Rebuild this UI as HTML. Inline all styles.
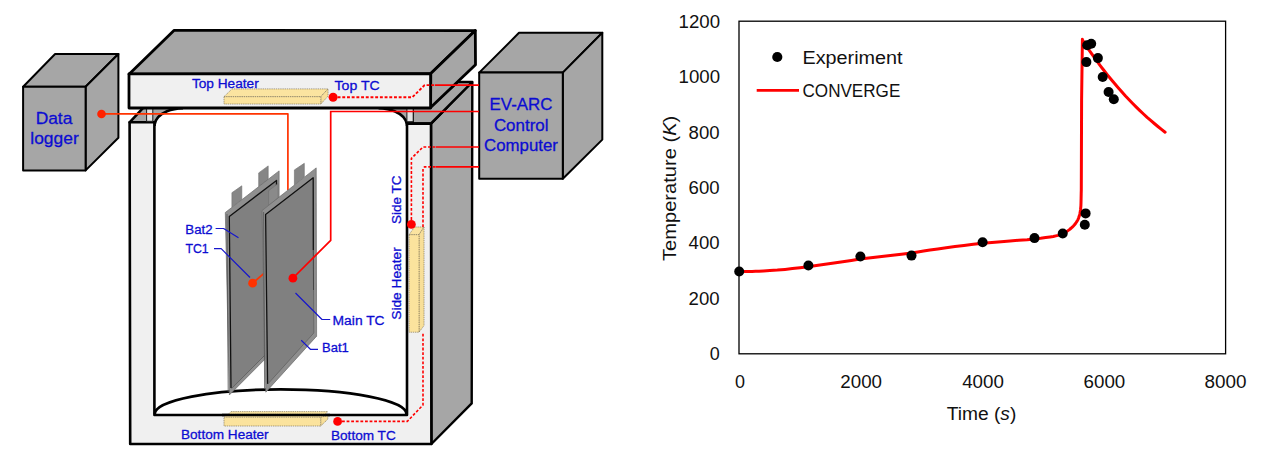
<!DOCTYPE html>
<html lang="en">
<head>
<meta charset="utf-8">
<title>EV-ARC setup and temperature comparison</title>
<style>
  html, body { margin: 0; padding: 0; background: #ffffff; }
  body { width: 1265px; height: 454px; overflow: hidden; }
  svg { display: block; }
  .lbl { font-family: "Liberation Sans", Arial, sans-serif; fill: #0c0cd2; stroke: #0c0cd2; stroke-width: 0.3px; }
  .ax  { font-family: "Liberation Sans", Arial, sans-serif; fill: #111111; }
</style>
</head>
<body>
<svg width="1265" height="454" viewBox="0 0 1265 454">
  <rect x="0" y="0" width="1265" height="454" fill="#ffffff"/>

  <!-- ================= LEFT: EXPERIMENT SCHEMATIC ================= -->
  <g id="schematic" stroke-linejoin="round">

    <!-- data logger cube -->
    <g stroke="#000" stroke-width="2" fill="#a6a6a6">
      <polygon points="23.1,86.8 55.1,54 118.4,54 85.6,86.8"/>
      <polygon points="85.6,86.8 118.4,54 118.4,137.8 85.6,170.4"/>
      <rect x="23.1" y="86.8" width="62.5" height="83.6"/>
    </g>

    <!-- control computer cube -->
    <g stroke="#000" stroke-width="2" fill="#a6a6a6">
      <polygon points="479.2,72.6 519,32.8 602.3,32.8 562.8,72.6"/>
      <polygon points="562.8,72.6 602.3,32.8 602.3,139.6 562.8,178.8"/>
      <rect x="479.2" y="72.6" width="83.6" height="106.2"/>
    </g>

    <!-- chamber: right side face -->
    <polygon points="431,123.6 472.3,82 471.7,403.4 431.4,444" fill="#a6a6a6" stroke="#000" stroke-width="2.4"/>
    <!-- chamber: top rim seen through the gap -->
    <polygon points="129.6,122.3 143.6,107.4 447,107.4 431,123.6" fill="#a6a6a6" stroke="#000" stroke-width="2.6"/>
    <polygon points="412.8,107.4 412.8,123.4 431,123.4 472.2,82 457.5,82 430.6,106.6" fill="#a6a6a6" stroke="#000" stroke-width="2.4"/>
    <!-- chamber: inner opening -->
    <path d="M154.6,415 L154.6,124.5 C155.4,118.6 160.5,114 167,111.2 C172,109.2 177,108.4 183,108.1 L378.6,108.1 C384.6,108.4 389.6,109.2 394.6,111.2 C401.1,114 406.2,118.6 407,124.5 L407,415 Z" fill="#ffffff"/>
    <path d="M154.6,126 L154.6,124.5 C155.4,118.6 160.5,114 167,111.2 C172,109.2 177,108.4 183,108.1" fill="none" stroke="#000" stroke-width="2.6"/>
    <path d="M407,126 L407,124.5 C406.2,118.6 401.1,114 394.6,111.2 C389.6,109.2 384.6,108.4 378.6,108.1" fill="none" stroke="#000" stroke-width="2.6"/>
    <!-- chamber: front face -->
    <path d="M129.6,122.3 L154.4,122.3 L154.4,415 L407,415 L407,123.6 L431,123.6 L431.4,444 L130.2,444 Z" fill="#f0f0f0" stroke="#000" stroke-width="2.6"/>
    <!-- pillars -->
    <rect x="146.6" y="107.4" width="6.2" height="13.9" fill="#e4e4e4" stroke="#1a1a1a" stroke-width="1"/>
    <rect x="406.9" y="107.4" width="6.3" height="14.3" fill="#e4e4e4" stroke="#1a1a1a" stroke-width="1"/>
    <!-- bottom arc -->
    <path d="M154.8,414 A125.8,24.6 0 0 1 406.4,414" fill="none" stroke="#000" stroke-width="2.6"/>

    <!-- top plate -->
    <g stroke="#000" stroke-width="2.8">
      <polygon points="129,74.2 174.2,30.3 475.3,30.6 430.8,73.5" fill="#a6a6a6"/>
      <polygon points="430.8,73.5 475.3,30.6 475.5,64.8 430.6,107.6" fill="#a6a6a6"/>
      <rect x="129" y="73.8" width="301.6" height="34.2" fill="#f0f0f0"/>
    </g>

    <!-- top heater -->
    <g stroke="#857a5c" stroke-width="0.7" stroke-dasharray="1.4 0.8">
      <polygon points="224,96.7 232,88.9 328,88.9 320.8,96.7" fill="#fbe4a0"/>
      <polygon points="320.8,96.7 328,88.9 328,96.2 320.8,104" fill="#f8df98"/>
      <rect x="224" y="96.7" width="96.8" height="7.3" fill="#fbe39d"/>
    </g>
    <!-- bottom heater -->
    <g stroke="#857a5c" stroke-width="0.7" stroke-dasharray="1.4 0.8">
      <polygon points="231,411.6 327.8,411.6 325,414.2 228.5,414.2" fill="#fbe4a0"/>
      <polygon points="224,417.2 225.5,416 326,416 320.7,417.2" fill="#fbe4a0" stroke="none"/>
      <polygon points="320.7,417.2 327.8,415.8 327.8,419.2 320.7,426" fill="#f8df98"/>
      <rect x="224" y="417.2" width="96.7" height="8.8" fill="#fbe39d"/>
    </g>
    <line x1="222" y1="415" x2="330" y2="415" stroke="#000" stroke-width="2.6"/>
    <!-- side heater -->
    <g stroke="#857a5c" stroke-width="0.7" stroke-dasharray="1.4 0.8">
      <polygon points="409.1,234.7 419,234.7 424,227 414.5,227" fill="#fbe4a0"/>
      <polygon points="419,234.7 424,227 424,325.6 419,332.2" fill="#f8df98"/>
      <rect x="409.1" y="234.7" width="9.9" height="97.5" fill="#fbe39d"/>
    </g>

    <!-- thermocouple wires to control computer -->
    <g fill="none" stroke="#ff0000" stroke-width="1.9">
      <path d="M337.6,97.3 L412.3,97.3 L424.6,85.1 L435,85.1" stroke-dasharray="2.9 1.8"/>
      <path d="M435,85.1 L479,85.1" stroke-width="1.7"/>
    </g>
    <g fill="none" stroke="#ff0000" stroke-width="1.6">
      <path d="M411.4,224.5 L411.4,158.4 L423,147 L436,147" stroke-dasharray="2.8 1.8"/>
      <path d="M436,147 L479,147"/>
      <path d="M342,421.4 L407.3,421.4 L423,405 L423,332 M423,227 L423,168.8 L424.4,166.9 L436,166.9" stroke-dasharray="2.8 1.8"/>
      <path d="M436,166.9 L479,166.9"/>
    </g>
    <!-- data logger wire -->
    <path d="M101.5,113.8 L287.9,113.8 L287.9,190" fill="none" stroke="#ff3300" stroke-width="1.7"/>
    <circle cx="101.5" cy="114" r="4.3" fill="#ff2200"/>
    <circle cx="333.1" cy="97.3" r="4.5" fill="#ff0000"/>
    <circle cx="411.4" cy="224.4" r="4.4" fill="#ff0000"/>
    <circle cx="337.6" cy="421.4" r="4.4" fill="#ff0000"/>

    <!-- battery 2 (back) -->
    <g>
      <polygon points="231.9,207 231.9,192.7 241.8,185.8 241.8,199.5" fill="#868686" stroke="#6e6e6e" stroke-width="0.6"/>
      <polygon points="258.7,186.5 258.7,172.9 268.2,165.9 268.2,179.5" fill="#868686" stroke="#6e6e6e" stroke-width="0.6"/>
      <polygon points="225.3,212.5 279.1,170.9 279.1,345 229.4,394.9" fill="#8f8f8f" stroke="#6a6a6a" stroke-width="0.7"/>
      <polygon points="229.3,216.5 276.5,180.4 276.5,343 231.6,388.5" fill="#808080"/>
      <path d="M231,388 L229.3,216.5 L276.5,180.4 L276.5,200" fill="none" stroke="#111" stroke-width="1.3"/>
      <path d="M231.6,388.5 L265,355" fill="none" stroke="#5c5c5c" stroke-width="0.8"/>
      <path d="M228.2,392 L227,214" fill="none" stroke="#555" stroke-width="0.8"/>
    </g>
    <!-- TC1 on battery 2 -->
    <path d="M252.6,283.2 L264,273.4" stroke="#ff3300" stroke-width="1.8" fill="none"/>
    <circle cx="252.6" cy="283.2" r="4.4" fill="#ff3300"/>

    <!-- battery 1 (front) -->
    <g>
      <polygon points="268.6,205.5 268.6,190.7 278.1,183.6 278.1,198" fill="#8a8a8a" stroke="#6e6e6e" stroke-width="0.6"/>
      <polygon points="294.4,184.8 294.4,169.9 304.3,163.3 304.3,176.8" fill="#868686" stroke="#6e6e6e" stroke-width="0.6"/>
      <polygon points="262,210.6 316.2,167.9 316.6,336.2 265.8,392.2" fill="#8f8f8f" stroke="#6a6a6a" stroke-width="0.7"/>
      <polygon points="265.6,214.5 313.2,177.8 313.8,333 267.8,384" fill="#808080"/>
      <path d="M267.6,384 L265.6,214.5 L313.2,177.8 L313.3,250" fill="none" stroke="#111" stroke-width="1.3"/>
      <path d="M313.3,250 L313.5,290" fill="none" stroke="#444" stroke-width="1"/>
      <path d="M313.5,290 L313.8,333 L267.8,384" fill="none" stroke="#666" stroke-width="0.9"/>
      <path d="M264.6,389 L263.6,212" fill="none" stroke="#555" stroke-width="0.8"/>
    </g>
    <path d="M479,111.5 L330.7,111.5 L330.7,240.3 L293,278" fill="none" stroke="#ff0000" stroke-width="1.7" stroke-linejoin="miter"/>
    <circle cx="292.9" cy="278.2" r="4.4" fill="#ff0000"/>

    <!-- leader lines -->
    <g fill="none" stroke="#1616cc" stroke-width="1.2">
      <path d="M215.6,228.5 L223.6,228.5 L238.5,237.8"/>
      <path d="M214,248.7 L221.2,248.7 L250,277.5"/>
      <path d="M295.5,293 L322,319.5 L330.2,319.5"/>
      <path d="M301.2,340.3 L310.4,349.3 L318,349.3"/>
    </g>

    <!-- labels -->
    <g class="lbl" font-size="13.7">
      <text x="191.9" y="87.6" textLength="66.8" lengthAdjust="spacingAndGlyphs">Top Heater</text>
      <text x="334.5" y="90" textLength="45.2" lengthAdjust="spacingAndGlyphs">Top TC</text>
      <text x="181" y="439.2" textLength="87.6" lengthAdjust="spacingAndGlyphs">Bottom Heater</text>
      <text x="331" y="440" textLength="64.7" lengthAdjust="spacingAndGlyphs">Bottom TC</text>
      <text x="185.3" y="234.2" textLength="27.3" lengthAdjust="spacingAndGlyphs">Bat2</text>
      <text x="185.4" y="253" textLength="23.2" lengthAdjust="spacingAndGlyphs">TC1</text>
      <text x="332.6" y="324.5" textLength="52" lengthAdjust="spacingAndGlyphs">Main TC</text>
      <text x="322" y="352" textLength="26.8" lengthAdjust="spacingAndGlyphs">Bat1</text>
      <text transform="translate(400.8,224) rotate(-90)" textLength="48.5" lengthAdjust="spacingAndGlyphs">Side TC</text>
      <text transform="translate(401.4,319.7) rotate(-90)" textLength="72.4" lengthAdjust="spacingAndGlyphs">Side Heater</text>
    </g>
    <g class="lbl" font-size="17.4" text-anchor="middle">
      <text x="54" y="124">Data</text>
      <text x="54.5" y="144">logger</text>
      <text x="521" y="110.1" textLength="63" lengthAdjust="spacingAndGlyphs">EV-ARC</text>
      <text x="521.2" y="130.8" textLength="54.6" lengthAdjust="spacingAndGlyphs">Control</text>
      <text x="521" y="151.4" textLength="73.8" lengthAdjust="spacingAndGlyphs">Computer</text>
    </g>
  </g>

  <!-- ================= RIGHT: CHART ================= -->
  <g id="chart">
    <rect x="739" y="21.2" width="486.6" height="332.6" fill="#ffffff" stroke="#000" stroke-width="1.3"/>
    <!-- CONVERGE curve -->
    <polyline fill="none" stroke="#ff0000" stroke-width="3" stroke-linejoin="round" stroke-linecap="round" points="739.2,271.5 742.6,271.5 747.4,271.5 752.0,271.4 755.6,271.3 759.0,271.2 763.5,271.0 769.9,270.6 777.4,270.1 785.0,269.4 792.4,268.6 800.1,267.7 808.0,266.7 816.4,265.5 825.2,264.3 834.0,263.0 842.7,261.7 851.3,260.4 860.0,259.1 868.7,258.0 877.4,256.9 886.0,255.9 894.8,254.9 903.5,254.0 911.5,253.0 917.9,252.0 923.6,251.0 930.0,250.0 937.8,248.9 946.2,247.7 955.0,246.6 964.0,245.4 973.3,244.2 982.6,243.2 991.9,242.4 1001.1,241.7 1010.0,241.0 1018.7,240.3 1027.1,239.7 1034.5,239.0 1040.6,238.3 1045.7,237.6 1050.0,237.0 1053.3,236.5 1055.8,235.9 1058.0,235.4 1060.1,234.8 1061.8,234.1 1063.5,233.4 1065.1,232.5 1066.6,231.6 1068.0,230.6 1069.4,229.6 1070.7,228.5 1072.0,227.4 1073.2,226.2 1074.3,225.0 1075.3,223.8 1076.2,222.5 1077.1,221.2 1077.8,219.8 1078.5,218.3 1079.0,216.8 1079.5,215.2 1079.9,213.6 1080.2,211.9 1080.5,210.0 1080.7,208.0 1080.9,205.8 1081.0,203.0 1081.1,198.6 1081.2,193.6 1081.3,190.0 1081.6,100 1082.4,39.3 1082.4,39.9 1086.0,45.4 1089.6,50.8 1093.2,55.9 1096.8,60.9 1100.4,65.8 1104.0,70.5 1107.6,75.1 1111.2,79.5 1114.8,83.8 1118.4,88.0 1122.0,92.1 1125.5,96.0 1129.1,99.8 1132.7,103.5 1136.3,107.1 1139.9,110.6 1143.5,114.0 1147.1,117.3 1150.7,120.4 1154.3,123.5 1157.9,126.5 1161.5,129.4 1165.1,132.2"/>
    <!-- experiment markers -->
    <g fill="#000000">
      <circle cx="739.2" cy="271.5" r="5"/>
      <circle cx="808.4" cy="265.5" r="5"/>
      <circle cx="860.4" cy="256.5" r="5"/>
      <circle cx="911.5" cy="255.6" r="5"/>
      <circle cx="982.6" cy="242.3" r="5"/>
      <circle cx="1034.5" cy="238.1" r="5"/>
      <circle cx="1062.7" cy="233.5" r="5"/>
      <circle cx="1085.6" cy="213.4" r="5"/>
      <circle cx="1084.8" cy="224.7" r="5"/>
      <circle cx="1087.2" cy="45.2" r="5"/>
      <circle cx="1091.2" cy="43.8" r="5"/>
      <circle cx="1086.4" cy="62.1" r="5"/>
      <circle cx="1097.9" cy="58.1" r="5"/>
      <circle cx="1102.7" cy="77.0" r="5"/>
      <circle cx="1108.6" cy="92.0" r="5"/>
      <circle cx="1113.8" cy="99.2" r="5"/>
    </g>
    <!-- y tick labels -->
    <g class="ax" font-size="17.5" text-anchor="end">
      <text x="720.1" y="27.8" textLength="41.5" lengthAdjust="spacingAndGlyphs">1200</text>
      <text x="720.1" y="83.2" textLength="41.5" lengthAdjust="spacingAndGlyphs">1000</text>
      <text x="719.6" y="138.6" textLength="31" lengthAdjust="spacingAndGlyphs">800</text>
      <text x="719.6" y="194.0" textLength="31" lengthAdjust="spacingAndGlyphs">600</text>
      <text x="719.6" y="249.4" textLength="31" lengthAdjust="spacingAndGlyphs">400</text>
      <text x="719.6" y="304.8" textLength="31" lengthAdjust="spacingAndGlyphs">200</text>
      <text x="719.8" y="360.4" textLength="10" lengthAdjust="spacingAndGlyphs">0</text>
    </g>
    <!-- x tick labels -->
    <g class="ax" font-size="17.5" text-anchor="middle">
      <text x="740" y="387.9" textLength="10" lengthAdjust="spacingAndGlyphs">0</text>
      <text x="861.2" y="387.9" textLength="41.7" lengthAdjust="spacingAndGlyphs">2000</text>
      <text x="983" y="387.9" textLength="41.7" lengthAdjust="spacingAndGlyphs">4000</text>
      <text x="1104.4" y="387.9" textLength="41.7" lengthAdjust="spacingAndGlyphs">6000</text>
      <text x="1225.5" y="387.9" textLength="42" lengthAdjust="spacingAndGlyphs">8000</text>
    </g>
    <!-- axis titles -->
    <text class="ax" font-size="18" x="946.7" y="419.6" textLength="69.6" lengthAdjust="spacingAndGlyphs">Time (<tspan font-style="italic">s</tspan>)</text>
    <text class="ax" font-size="18" transform="translate(676.2,261) rotate(-90)" x="0" y="0" textLength="145.3" lengthAdjust="spacingAndGlyphs">Temperature (<tspan font-style="italic">K</tspan>)</text>
    <!-- legend -->
    <circle cx="777.3" cy="57" r="5.1" fill="#000"/>
    <text class="ax" font-size="18" x="802.5" y="63.5" textLength="100.1" lengthAdjust="spacingAndGlyphs">Experiment</text>
    <line x1="756.7" y1="90.4" x2="799" y2="90.4" stroke="#ff0000" stroke-width="2.6"/>
    <text class="ax" font-size="18" x="802.5" y="97" textLength="97.8" lengthAdjust="spacingAndGlyphs">CONVERGE</text>
  </g>
</svg>
</body>
</html>
